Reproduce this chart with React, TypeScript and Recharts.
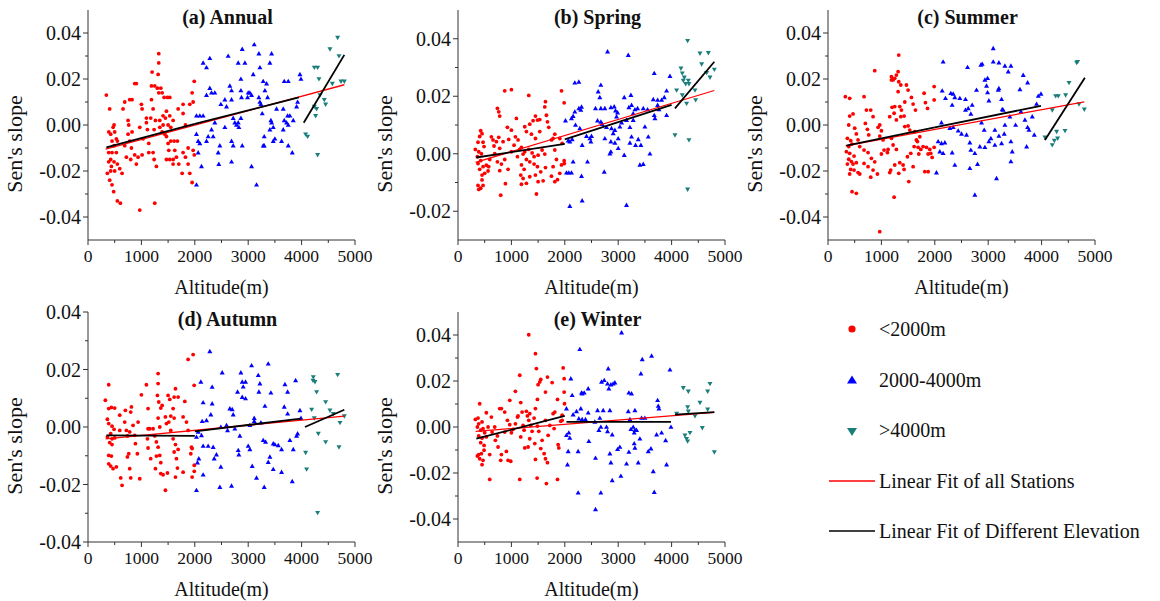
import React from 'react';
import { ScatterChart, Scatter, XAxis, YAxis } from 'recharts';

type Pt = [number, number];

// ---------- tick values ----------
const altitudeTicks = [0, 500, 1000, 1500, 2000, 2500, 3000, 3500, 4000, 4500, 5000];
const slopeTicksWide = [-0.04, -0.03, -0.02, -0.01, 0, 0.01, 0.02, 0.03, 0.04];
const slopeTicksSpring = [-0.02, -0.01, 0, 0.01, 0.02, 0.03, 0.04];
const slopeTicksAutumn = [-0.04, -0.03, -0.02, -0.01, 0, 0.01, 0.02, 0.03, 0.04];

// ---------- (a) Annual ----------
const annualLow: Pt[] = [[344,0.013],[406,0.007],[488,0.000],[470,-0.001],[390,-0.003],[425,-0.004],[500,-0.003],[531,-0.006],[450,-0.007],[550,-0.007],[488,-0.009],[388,-0.012],[450,-0.012],[531,-0.012],[425,-0.015],[388,-0.016],[488,-0.016],[550,-0.017],[438,-0.018],[363,-0.021],[500,-0.020],[594,-0.019],[638,-0.021],[425,-0.020],[406,-0.024],[450,-0.026],[481,-0.029],[550,-0.033],[606,-0.034],[969,-0.037],[1250,-0.034],[688,0.010],[781,0.011],[825,0.011],[656,0.007],[875,0.018],[906,0.018],[1000,0.009],[1013,0.007],[750,0.002],[763,0.000],[969,-0.001],[1094,0.003],[1094,0.001],[750,-0.004],[825,-0.003],[781,-0.007],[688,-0.009],[813,-0.010],[719,-0.014],[800,-0.015],[875,-0.013],[938,-0.014],[1013,-0.013],[906,-0.017],[1325,0.031],[1325,0.027],[1200,0.023],[1313,0.022],[1188,0.017],[1250,0.017],[1300,0.016],[1363,0.016],[1325,0.014],[1388,0.014],[1425,0.012],[1488,0.012],[1531,0.012],[1188,0.011],[1219,0.007],[1175,0.003],[1263,0.002],[1344,0.002],[1406,0.004],[1469,0.006],[1531,0.004],[1450,0.003],[1406,0.000],[1500,0.000],[1550,-0.001],[1238,-0.002],[1344,-0.001],[1388,-0.003],[1438,-0.004],[1500,-0.008],[1550,-0.007],[1613,-0.007],[1675,-0.007],[1469,-0.005],[1138,-0.008],[1138,-0.012],[1219,-0.012],[1238,-0.015],[1281,-0.018],[1469,-0.015],[1531,-0.015],[1594,-0.015],[1656,-0.014],[1625,-0.011],[1513,-0.011],[1594,-0.017],[1700,-0.017],[1781,-0.012],[1875,-0.010],[1825,-0.014],[1875,-0.017],[1969,-0.011],[1990,-0.013],[1763,-0.021],[1906,-0.021],[1950,-0.025],[1781,0.009],[1781,0.005],[1825,0.000],[1906,0.009],[1950,0.014],[1990,0.019],[1969,0.010],[1688,0.007],[1594,0.002],[1113,-0.002],[1031,-0.006]];
const annualMid: Pt[] = [[2156,0.027],[2219,0.025],[2281,0.029],[2031,0.004],[2094,0.004],[2156,0.004],[2031,-0.004],[2063,-0.007],[2094,-0.008],[2063,-0.012],[2125,-0.018],[2031,-0.026],[2219,0.013],[2313,0.014],[2375,0.014],[2281,0.016],[2313,-0.002],[2344,-0.005],[2250,-0.005],[2219,-0.007],[2469,-0.009],[2438,-0.012],[2450,-0.017],[2375,0.001],[2488,0.009],[2563,0.011],[2594,0.008],[2656,0.017],[2688,0.015],[2625,0.030],[2688,-0.007],[2719,-0.009],[2688,-0.016],[2719,0.003],[2750,0.001],[2781,0.000],[2813,0.001],[2825,-0.001],[2863,0.003],[2863,0.020],[2863,0.015],[2875,0.012],[2813,0.027],[2938,0.027],[2888,0.033],[2888,-0.009],[3000,0.014],[3031,0.014],[3063,0.013],[2988,0.012],[3063,-0.018],[3094,0.022],[3113,0.035],[3156,-0.026],[3200,0.031],[3219,0.025],[3200,0.012],[3219,0.010],[3238,0.009],[3281,0.019],[3313,0.015],[3344,0.018],[3363,0.012],[3263,0.005],[3300,-0.005],[3300,-0.009],[3406,0.027],[3438,0.031],[3438,0.001],[3469,-0.001],[3406,-0.002],[3500,-0.006],[3425,0.002],[3469,-0.007],[3281,-0.009],[3531,0.007],[3656,0.007],[3675,0.002],[3719,0.001],[3675,0.019],[3750,0.019],[3738,0.004],[3781,0.004],[3825,-0.012],[3625,-0.007],[3656,-0.002],[3750,0.000],[3844,0.002],[3906,0.008],[3925,0.010],[3969,0.022],[3988,0.020],[3750,-0.009],[2563,-0.001],[2688,0.011]];
const annualHigh: Pt[] = [[4075,-0.004],[4113,-0.005],[4238,0.025],[4300,0.025],[4325,0.020],[4238,0.008],[4281,0.007],[4263,0.004],[4300,-0.013],[4425,0.011],[4450,0.009],[4531,0.033],[4575,0.018],[4675,0.038],[4700,0.030],[4738,0.019],[4800,0.019],[4344,0.013]];
const annualFitAll: Pt[] = [[330,-0.0105],[4800,0.0175]];
const annualFitLow: Pt[] = [[344,-0.0097],[2000,0.0005]];
const annualFitMid: Pt[] = [[2000,0.0005],[3950,0.012]];
const annualFitHigh: Pt[] = [[4040,0.001],[4800,0.0305]];

// ---------- (b) Spring ----------
const springLow: Pt[] = [[325,0.0015],[388,0.0007],[363,-0.001],[438,0],[425,0.008],[450,0.007],[406,0.006],[375,0.004],[469,0.004],[488,0.0025],[375,-0.0034],[425,-0.0024],[469,-0.0045],[531,-0.004],[500,-0.0068],[563,-0.006],[406,-0.0054],[450,-0.0074],[375,-0.011],[425,-0.012],[469,-0.011],[388,-0.0124],[450,-0.0091],[575,-0.0045],[594,-0.002],[625,0.0059],[656,0.0048],[719,0.0042],[675,0.0027],[763,0.0057],[844,0.0042],[781,0.0019],[688,0],[738,-0.0028],[813,-0.0036],[875,-0.002],[781,-0.0059],[800,-0.0144],[888,-0.0104],[938,-0.0054],[738,0.0158],[763,0.0146],[781,0.0131],[875,0.0219],[1000,0.0223],[925,0.0092],[1000,0.0082],[1094,0.0123],[1075,0.0059],[950,0.005],[1050,0.003],[1125,0.0048],[1156,0.0015],[1000,0.0007],[1113,-0.001],[1219,-0.0001],[1325,0.0203],[1250,0.0094],[1344,0.0103],[1406,0.0115],[1450,0.0131],[1488,0.0117],[1531,0.0119],[1281,0.0077],[1375,0.0068],[1450,0.0053],[1531,0.0077],[1188,0.0022],[1250,0.0007],[1325,0.0015],[1388,0.0003],[1425,-0.001],[1500,-0.0005],[1575,0.0013],[1625,-0.0001],[1281,-0.002],[1344,-0.0028],[1425,-0.0036],[1488,-0.0045],[1188,-0.0039],[1238,-0.0054],[1175,-0.0074],[1219,-0.0086],[1281,-0.0103],[1188,-0.0106],[1344,-0.008],[1450,-0.0074],[1500,-0.0097],[1550,-0.0063],[1469,-0.014],[1594,-0.0094],[1638,-0.0048],[1638,0.0181],[1625,0.0163],[1656,0.0134],[1675,0.0111],[1700,0.0092],[1750,0.0048],[1781,0.0053],[1813,0.0013],[1844,-0.002],[1781,-0.0045],[1750,-0.0078],[1863,-0.009],[1813,-0.0097],[1906,-0.0068],[1938,-0.0039],[1988,-0.0024],[1990,-0.0034],[1938,0.0219],[1988,0.0177],[1813,0.0068],[1906,0.0053],[1950,0.0036]];
const springMid: Pt[] = [[2188,0.0247],[2263,0.025],[2188,0.0146],[2263,0.0158],[2313,0.0163],[2300,0.0152],[2156,0.0131],[2013,0.0115],[2125,0.0123],[2063,0.0045],[2138,0.005],[2094,0.0042],[2156,-0.0028],[2031,-0.0066],[2075,-0.0066],[2125,-0.0066],[2094,-0.0182],[2325,-0.0163],[2313,-0.0078],[2200,0.01],[2281,0.0088],[2325,0.003],[2406,0.0061],[2425,-0.0028],[2469,0.0053],[2500,0.0061],[2488,0.0042],[2675,0.0239],[2625,0.0216],[2656,0.0196],[2575,0.0158],[2675,0.0158],[2750,0.0158],[2613,0.0115],[2675,0.0111],[2700,0.0103],[2781,0.0092],[2750,0.0053],[2738,-0.0063],[2800,0.0355],[2863,0.0161],[2925,0.0164],[2950,0.015],[2988,0.0143],[2969,0.0129],[2875,0.0088],[2906,0.0071],[2863,0.0042],[2938,0.0038],[3031,0.0094],[2863,0.0007],[2844,0],[3000,0.0019],[3113,-0.0005],[3063,0.0108],[3113,0.0196],[3156,0.0117],[3188,0.0343],[3200,0.0161],[3250,0.0169],[3238,0.0204],[3281,0.014],[3313,0.0154],[3363,0.0158],[3281,0.0117],[3219,0.0092],[3250,0.0059],[3375,0.005],[3425,0.003],[3325,0.003],[3219,0.0038],[3156,-0.0179],[3406,-0.0039],[3469,-0.0036],[3594,0],[3469,0.0158],[3550,0.0154],[3656,0.0189],[3675,0.028],[3675,0.0134],[3688,0.0123],[3738,0.0169],[3738,0.0187],[3813,0.0187],[3763,0.0154],[3863,0.0196],[3906,0.0219],[3906,0.0134],[3969,0.027],[3563,0.0059],[3500,0.0094],[3000,0.0053],[2938,0.0082]];
const springHigh: Pt[] = [[4094,0.0221],[4063,0.0065],[4175,0.0297],[4200,0.028],[4238,0.0266],[4219,0.0255],[4313,0.0255],[4263,0.0243],[4325,0.0243],[4300,0.0393],[4200,0.0204],[4281,0.0175],[4450,0.0187],[4325,0.0048],[4300,-0.0124],[4531,0.0349],[4688,0.0351],[4563,0.0312],[4656,0.0282],[4719,0.0266],[4800,0.0293],[4438,0.0221]];
const springFitAll: Pt[] = [[330,-0.003],[4800,0.022]];
const springFitLow: Pt[] = [[344,-0.0013],[2000,0.0034]];
const springFitMid: Pt[] = [[2000,0.005],[4000,0.017]];
const springFitHigh: Pt[] = [[4063,0.0158],[4800,0.032]];

// ---------- (c) Summer ----------
const summerLow: Pt[] = [[325,0.0123],[406,0.0116],[469,0.0048],[406,0.0039],[388,0],[363,-0.0058],[425,-0.0068],[450,-0.0083],[388,-0.0094],[344,-0.0116],[406,-0.0123],[488,-0.0135],[388,-0.0149],[438,-0.0159],[363,-0.017],[469,-0.017],[531,-0.0164],[425,-0.0193],[488,-0.0196],[406,-0.0213],[563,-0.0207],[594,-0.0213],[450,-0.029],[531,-0.0297],[969,-0.0464],[1238,-0.0314],[500,-0.0014],[531,-0.0039],[563,-0.0065],[594,-0.0094],[675,0.0123],[719,0.0065],[700,0.0007],[738,-0.0019],[763,-0.0043],[675,-0.0109],[750,-0.012],[813,-0.0145],[675,-0.0167],[750,-0.0181],[800,-0.0227],[875,-0.016],[925,-0.0213],[844,-0.0196],[875,0.0236],[800,0.0065],[844,0.0036],[938,-0.001],[969,0],[1000,-0.0025],[969,-0.0048],[1031,-0.0065],[1050,-0.0109],[1113,-0.012],[1000,-0.0126],[1188,0.021],[1219,0.0196],[1250,0.0203],[1313,0.0232],[1281,0.0217],[1188,0.0196],[1325,0.0188],[1363,0.0174],[1313,0.0145],[1438,0.01],[1469,0.0174],[1500,0.0152],[1325,0.0304],[1156,0.0036],[1200,0.0077],[1250,0.008],[1238,0.0051],[1281,0.0022],[1344,0.008],[1375,0.0065],[1363,0.0036],[1425,0.0039],[1438,-0.0007],[1500,-0.0004],[1531,-0.0022],[1188,-0.0058],[1219,-0.0087],[1125,-0.0106],[1281,-0.0106],[1175,-0.0196],[1156,-0.0207],[1250,-0.0174],[1344,-0.0164],[1406,-0.0174],[1488,-0.0138],[1550,-0.0123],[1325,-0.021],[1425,-0.0193],[1513,-0.0246],[1594,-0.0181],[1563,0.012],[1594,0.0091],[1638,0.0065],[1625,-0.0029],[1656,-0.0065],[1675,-0.0072],[1613,-0.0094],[1719,-0.0051],[1800,0.0138],[1825,0.0097],[1863,0.0072],[1688,-0.0097],[1738,-0.0106],[1700,-0.0126],[1781,-0.0094],[1844,-0.0097],[1906,-0.0106],[1875,-0.0126],[1925,-0.0123],[1988,-0.0097],[1950,-0.0141],[1813,-0.0203],[1875,-0.0203],[1988,0.0109],[1988,0.0167]];
const summerMid: Pt[] = [[2156,0.0275],[2138,0.0149],[2200,0.0116],[2125,0.001],[2063,-0.0072],[2125,-0.008],[2094,-0.0116],[2156,-0.0123],[2188,-0.0077],[2031,-0.0207],[2300,0.0138],[2344,0.0135],[2375,0.012],[2325,0.0087],[2281,-0.0014],[2344,-0.001],[2438,-0.0025],[2500,-0.0039],[2325,-0.012],[2375,-0.0174],[2469,0.0116],[2575,0.0112],[2575,0.0065],[2625,0.0072],[2700,0.0087],[2675,0.0048],[2594,-0.0043],[2656,-0.0077],[2675,-0.0109],[2750,-0.0123],[2656,-0.0188],[2750,-0.0304],[2800,-0.017],[2613,0.0251],[2781,0.0152],[2888,0.0265],[2863,0.0261],[2938,0.0196],[2988,0.0203],[2969,0.017],[2988,0.0141],[3013,0.0106],[2925,-0.0022],[3094,0.0333],[3094,0.0275],[3200,0.0271],[3313,0.0257],[3425,0.0257],[3375,0.0232],[3200,0.0159],[3188,0.0152],[3250,0.0112],[3281,0.0065],[3263,0.0068],[3050,-0.0058],[3125,-0.0087],[3156,-0.0232],[3200,-0.0048],[3250,-0.008],[3300,-0.0039],[3313,0],[3406,0.0036],[3425,-0.0072],[3450,-0.0116],[3425,-0.0159],[3513,0],[3594,0.0155],[3656,0.0217],[3738,0.0184],[3613,0.0058],[3688,0.0022],[3738,-0.001],[3763,-0.0022],[3825,0.0036],[3719,-0.0094],[3863,-0.0043],[3906,0.0091],[3938,0.0126],[3988,0.0135],[3125,-0.0022],[2875,0.001],[2844,-0.0094],[2938,-0.0097],[3013,-0.0072]];
const summerHigh: Pt[] = [[4063,-0.0054],[4200,-0.0087],[4238,-0.0068],[4300,-0.0058],[4281,-0.0029],[4438,-0.0025],[4200,0.0065],[4313,0.0126],[4450,0.013],[4513,0.0184],[4675,0.0275],[4656,0.0271],[4700,0.0091],[4800,0.0068],[4263,0.0126]];
const summerFitAll: Pt[] = [[330,-0.0091],[4800,0.0101]];
const summerFitLow: Pt[] = [[344,-0.009],[2000,-0.001]];
const summerFitMid: Pt[] = [[2000,-0.001],[3988,0.0083]];
const summerFitHigh: Pt[] = [[4063,-0.0065],[4810,0.0205]];

// ---------- (d) Autumn ----------
const autumnLow: Pt[] = [[325,0.0093],[388,0.0147],[388,0.0064],[438,0.0068],[500,0.0066],[363,0.0027],[388,0.0012],[450,0.0003],[488,-0.0008],[425,-0.0023],[363,-0.0035],[450,-0.0041],[500,-0.0038],[406,-0.0054],[450,-0.0061],[388,-0.0099],[438,-0.0101],[388,-0.0128],[425,-0.0136],[469,-0.0145],[531,-0.0139],[594,0.0041],[613,-0.0177],[638,-0.0203],[700,0.0058],[688,0.0017],[719,-0.0012],[738,-0.0031],[781,-0.0017],[813,0.007],[800,0.0052],[844,0.0006],[875,-0.0029],[888,-0.0058],[763,-0.0093],[738,-0.0104],[781,-0.0145],[800,-0.0177],[925,-0.0093],[969,-0.018],[1000,0.0112],[1094,0.0147],[1125,0.0064],[1156,-0.0006],[1113,-0.0041],[1125,-0.0073],[1175,-0.011],[1125,-0.0006],[1313,0.0186],[1313,0.0151],[1300,0.011],[1325,0.0087],[1388,0.0075],[1363,0.0066],[1313,0.0031],[1344,0],[1250,-0.0031],[1281,-0.0052],[1313,-0.007],[1281,-0.0101],[1344,-0.0099],[1363,-0.0124],[1263,-0.0145],[1363,-0.0162],[1406,-0.0166],[1450,-0.022],[1488,-0.016],[1500,0.011],[1531,0.0096],[1613,0.0104],[1638,0.0133],[1688,0.0104],[1594,0.0064],[1550,0.0038],[1613,0.0031],[1513,0.0017],[1594,-0.0041],[1638,-0.0061],[1688,-0.0078],[1613,-0.0087],[1656,-0.011],[1675,-0.0143],[1638,-0.0174],[1781,-0.0157],[1813,0.0089],[1781,0.0035],[1844,0.0017],[1875,-0.0012],[1938,-0.007],[1950,-0.0075],[1925,-0.0093],[1990,-0.0133],[1990,-0.0154],[1950,-0.0174],[1875,0.0235],[1969,0.0252],[1988,0.0145],[1450,0.0035],[1469,0.0012],[1550,-0.0012],[1219,-0.0006],[938,0.0017],[594,-0.0012]];
const autumnMid: Pt[] = [[2113,0.0157],[2325,0.0139],[2156,0.0085],[2219,0.0023],[2138,0.002],[2063,-0.0017],[2125,-0.0029],[2031,-0.0035],[2156,-0.0066],[2075,-0.011],[2156,-0.0166],[2050,-0.0124],[2031,-0.022],[2281,0.0263],[2325,0.0081],[2300,0.0043],[2250,-0.0066],[2344,-0.007],[2363,-0.011],[2406,-0.0096],[2488,-0.0139],[2469,-0.0209],[2513,0.0189],[2488,0],[2594,0.0006],[2656,0.0064],[2700,0.0061],[2719,0.0043],[2750,-0.0006],[2613,-0.0012],[2844,-0.0031],[2813,-0.0081],[2825,-0.0096],[2688,-0.0205],[2863,0.0189],[2888,0.0157],[2950,0.0157],[2906,0.014],[2800,0.0122],[2888,0.0104],[2950,0.0099],[3063,0.0214],[3113,0.0031],[3113,0.002],[3031,0.0006],[3000,-0.0066],[3031,-0.0078],[3075,-0.0136],[3156,-0.0177],[3188,0.018],[3219,0.0151],[3200,0.0122],[3238,0.0015],[3313,0.0073],[3375,0.022],[3425,0.0119],[3300,-0.0209],[3281,-0.0046],[3325,-0.0052],[3406,-0.0104],[3500,-0.0061],[3563,-0.0064],[3625,-0.0078],[3469,-0.0058],[3625,-0.0157],[3688,0.0148],[3738,0.0122],[3675,0.007],[3738,0.0046],[3781,-0.0046],[3844,-0.0078],[3825,-0.0189],[3906,-0.0031],[3925,-0.0023],[3969,0.0058],[3988,0.0031],[3888,0.0162],[3375,-0.0122],[3469,-0.0147]];
const autumnHigh: Pt[] = [[4075,-0.0089],[4094,-0.0147],[4219,0.0174],[4250,0.0157],[4281,0.0122],[4238,0.0031],[4313,-0.0023],[4300,-0.0298],[4450,0.0087],[4450,-0.0052],[4531,0.0058],[4594,0.0046],[4675,0.0182],[4700,-0.007],[4719,0.0015],[4800,0.0038],[4188,0.0061],[4213,0.0162]];
const autumnFitAll: Pt[] = [[330,-0.0041],[4800,0.0038]];
const autumnFitLow: Pt[] = [[344,-0.0029],[2000,-0.0031]];
const autumnFitMid: Pt[] = [[2000,-0.0015],[3988,0.0029]];
const autumnFitHigh: Pt[] = [[4063,0],[4800,0.006]];

// ---------- (e) Winter ----------
const winterLow: Pt[] = [[325,0.0033],[375,0.0039],[406,0.0101],[388,0.0014],[450,0.0022],[363,0],[425,-0.0014],[469,-0.0007],[500,-0.0025],[388,-0.0039],[450,-0.0048],[531,-0.0043],[425,-0.0068],[488,-0.008],[388,-0.012],[438,-0.0116],[488,-0.0101],[406,-0.0138],[469,-0.0145],[363,-0.0126],[594,-0.012],[450,-0.0164],[594,-0.0228],[531,0.0062],[625,0.0043],[688,0],[638,-0.0022],[700,-0.0058],[738,-0.0039],[750,-0.0087],[813,-0.012],[800,-0.0145],[906,-0.0106],[938,-0.0145],[988,-0.0149],[781,0.008],[813,0.008],[875,0.0065],[925,0.0029],[969,0.001],[1000,-0.0025],[969,0.0116],[1075,0.0155],[1113,0.0043],[1156,0.0225],[1175,0.0106],[1200,0.0065],[1219,0.0007],[1175,-0.0043],[1238,-0.0014],[1281,0.0068],[1300,0.0048],[1344,0.0058],[1325,0.0029],[1363,0.0007],[1388,-0.0019],[1156,-0.0228],[1250,-0.0091],[1313,-0.0087],[1344,-0.0051],[1325,0.0401],[1450,0.0319],[1469,0.0254],[1500,0.0184],[1550,0.0207],[1531,0.0196],[1488,0.012],[1450,0.008],[1425,0.0039],[1488,0.0004],[1513,-0.0019],[1438,-0.0072],[1450,-0.0141],[1481,-0.0222],[1550,-0.0094],[1575,-0.0058],[1638,0.0152],[1675,0.0217],[1638,0.0029],[1613,-0.0116],[1638,-0.0138],[1675,-0.0155],[1656,-0.0246],[1688,-0.0036],[1719,0.0007],[1763,0.0193],[1781,0.0058],[1813,0.0065],[1800,-0.0007],[1863,0.012],[1875,-0.0077],[1888,-0.0091],[1863,-0.0228],[1925,0.0025],[1950,0.0051],[1988,0.0152],[1969,0.0257],[1988,0.021],[1995,0.0101],[1950,0.0029],[1031,-0.001],[1075,0.0014],[1125,0.0048],[875,-0.0022],[563,0]];
const winterMid: Pt[] = [[2113,0.021],[2031,0.008],[2031,-0.0036],[2075,-0.0025],[2094,-0.0048],[2156,0.0054],[2138,0.0138],[2063,-0.0106],[2050,-0.0164],[2281,0.0338],[2313,0.0149],[2363,0.0149],[2438,0.0167],[2300,0.008],[2219,0.0068],[2263,0.0036],[2325,0.0033],[2388,0.0033],[2438,0.0062],[2450,-0.0062],[2250,-0.0106],[2325,0.0145],[2688,0.0196],[2738,0.0203],[2800,0.0188],[2825,0.0167],[2863,0.0184],[2906,0.0188],[2938,0.0193],[2813,0.0254],[2613,0.0072],[2719,0.0072],[2844,0.0072],[2638,-0.0014],[2675,0],[2781,0],[2800,-0.0019],[2888,-0.0033],[2575,-0.0135],[2844,-0.0116],[2863,-0.0155],[2888,-0.0232],[2988,-0.0097],[3031,-0.0087],[3050,-0.0213],[3156,-0.016],[3063,0.041],[3200,0.0149],[3250,0.0145],[3188,0.0068],[3313,0.0072],[3219,0.0033],[3281,0],[3238,-0.001],[3313,-0.0014],[3344,-0.0014],[3300,-0.0025],[3406,-0.0051],[3300,-0.0072],[3313,-0.0091],[3375,-0.0155],[3200,-0.0109],[3425,0.0232],[3450,0.0294],[3438,0.0039],[3500,0.0039],[3625,0.0309],[3738,0.0116],[3763,0.008],[3750,0.0091],[3613,-0.0094],[3563,-0.0106],[3656,-0.0193],[3675,-0.0283],[3719,-0.0033],[3813,-0.0025],[3888,-0.0058],[3906,-0.0164],[3969,0.0249],[3988,0],[2250,-0.0286],[2675,-0.0286],[2575,-0.0358],[2563,0.0022],[2656,0.0039]];
const winterHigh: Pt[] = [[4094,0.0058],[4219,0.017],[4313,0.0155],[4300,0.0087],[4313,0.0068],[4250,-0.0036],[4281,-0.0051],[4300,-0.0062],[4344,-0.0025],[4438,0.0048],[4531,0.0106],[4575,-0.0004],[4675,0.0155],[4719,0.0188],[4675,0.0077],[4800,-0.0109]];
const winterFitAll: Pt[] = [[330,-0.0019],[4800,0.0064]];
const winterFitLow: Pt[] = [[344,-0.0051],[2000,0.0048]];
const winterFitMid: Pt[] = [[2031,0.0022],[3988,0.0022]];
const winterFitHigh: Pt[] = [[4063,0.0054],[4800,0.0065]];

// ---------- text ----------
const panelTitles = ['(a) Annual', '(b) Spring', '(c) Summer', '(d) Autumn', '(e) Winter'];
const xAxisTitle = 'Altitude(m)';
const yAxisTitle = "Sen's slope";
const legendLabels = ['<2000m', '2000-4000m', '>4000m', 'Linear Fit of all Stations', 'Linear Fit of Different Elevation'];

// ---------- styles ----------
const FONT = "'Liberation Serif', 'Times New Roman', serif";
const RED = '#ff0000';
const BLUE = '#0000ff';
const TEAL = '#1a7f7b';
const AXIS = '#333333';
const TXT = '#111111';

const toObjs = (pts: Pt[]) => pts.map(([x, y]) => ({ x, y }));

const DotShape = (p: any) => <circle cx={p.cx} cy={p.cy} r={1.9} fill={RED} />;
const UpShape = (p: any) => (
  <polygon points={`${p.cx},${p.cy - 2.6} ${p.cx + 2.5},${p.cy + 1.8} ${p.cx - 2.5},${p.cy + 1.8}`} fill={BLUE} />
);
const DownShape = (p: any) => (
  <polygon points={`${p.cx},${p.cy + 2.6} ${p.cx + 2.5},${p.cy - 1.8} ${p.cx - 2.5},${p.cy - 1.8}`} fill={TEAL} />
);
const NoShape = () => <g />;

const YTick = (p: any) => {
  const v = p.payload.value as number;
  const major = Math.round(v * 100) % 2 === 0;
  return (
    <g>
      <line x1={p.x} x2={p.x - (major ? 5 : 3)} y1={p.y} y2={p.y} stroke={AXIS} strokeWidth={1} />
      {major && (
        <text x={p.x - 7} y={p.y} dy="0.35em" textAnchor="end" fontSize={20} fontFamily={FONT} fill={TXT}>
          {v.toFixed(2)}
        </text>
      )}
    </g>
  );
};

const XTick = (p: any) => {
  const v = p.payload.value as number;
  const major = v % 1000 === 0;
  return (
    <g>
      <line x1={p.x} x2={p.x} y1={p.y} y2={p.y + (major ? 5 : 3)} stroke={AXIS} strokeWidth={1} />
      {major && (
        <text x={p.x} y={p.y + 22} textAnchor="middle" fontSize={17.5} fontFamily={FONT} fill={TXT}>
          {String(v)}
        </text>
      )}
    </g>
  );
};

type Panel = {
  left: number; top: number; domain: [number, number]; ticks: number[];
  low: Pt[]; mid: Pt[]; high: Pt[]; fitAll: Pt[]; fitLow: Pt[]; fitMid: Pt[]; fitHigh: Pt[];
};

const panels: Panel[] = [
  { left: 0, top: 0, domain: [-0.05, 0.05], ticks: slopeTicksWide, low: annualLow, mid: annualMid, high: annualHigh, fitAll: annualFitAll, fitLow: annualFitLow, fitMid: annualFitMid, fitHigh: annualFitHigh },
  { left: 370, top: 0, domain: [-0.03, 0.05], ticks: slopeTicksSpring, low: springLow, mid: springMid, high: springHigh, fitAll: springFitAll, fitLow: springFitLow, fitMid: springFitMid, fitHigh: springFitHigh },
  { left: 740, top: 0, domain: [-0.05, 0.05], ticks: slopeTicksWide, low: summerLow, mid: summerMid, high: summerHigh, fitAll: summerFitAll, fitLow: summerFitLow, fitMid: summerFitMid, fitHigh: summerFitHigh },
  { left: 0, top: 302, domain: [-0.04, 0.04], ticks: slopeTicksAutumn, low: autumnLow, mid: autumnMid, high: autumnHigh, fitAll: autumnFitAll, fitLow: autumnFitLow, fitMid: autumnFitMid, fitHigh: autumnFitHigh },
  { left: 370, top: 302, domain: [-0.05, 0.05], ticks: slopeTicksWide, low: winterLow, mid: winterMid, high: winterHigh, fitAll: winterFitAll, fitLow: winterFitLow, fitMid: winterFitMid, fitHigh: winterFitHigh },
];

const CH_W = 375;
const CH_H = 300;
const PLOT_L = 88;
const PLOT_T = 10;
const PLOT_W = 267;
const PLOT_H = 230;

function PanelChart({ p }: { p: Panel }) {
  return (
    <div style={{ position: 'absolute', left: p.left, top: p.top, width: CH_W, height: CH_H }}>
      <ScatterChart width={CH_W} height={CH_H} margin={{ top: PLOT_T, right: CH_W - PLOT_L - PLOT_W, bottom: 0, left: 0 }}>
        <XAxis
          type="number" dataKey="x" domain={[0, 5000]} ticks={altitudeTicks} interval={0}
          height={CH_H - PLOT_T - PLOT_H} tickSize={0} tickMargin={0} tickLine={false}
          axisLine={{ stroke: AXIS, strokeWidth: 1 }} tick={XTick} allowDataOverflow
        />
        <YAxis
          type="number" dataKey="y" domain={p.domain} ticks={p.ticks} interval={0}
          width={PLOT_L} tickSize={0} tickMargin={0} tickLine={false}
          axisLine={{ stroke: AXIS, strokeWidth: 1 }} tick={YTick} allowDataOverflow
        />
        <Scatter data={toObjs(p.low)} shape={DotShape} isAnimationActive={false} />
        <Scatter data={toObjs(p.mid)} shape={UpShape} isAnimationActive={false} />
        <Scatter data={toObjs(p.high)} shape={DownShape} isAnimationActive={false} />
        <Scatter data={toObjs(p.fitAll)} shape={NoShape} line={{ stroke: RED, strokeWidth: 1.3 }} isAnimationActive={false} />
        <Scatter data={toObjs(p.fitLow)} shape={NoShape} line={{ stroke: '#000', strokeWidth: 1.8 }} isAnimationActive={false} />
        <Scatter data={toObjs(p.fitMid)} shape={NoShape} line={{ stroke: '#000', strokeWidth: 1.8 }} isAnimationActive={false} />
        <Scatter data={toObjs(p.fitHigh)} shape={NoShape} line={{ stroke: '#000', strokeWidth: 1.8 }} isAnimationActive={false} />
      </ScatterChart>
    </div>
  );
}

export default function App() {
  return (
    <div style={{ position: 'absolute', left: 0, top: 0, width: 1160, height: 601, background: '#fff', overflow: 'hidden' }}>
      {panels.map((p, i) => (
        <PanelChart key={i} p={p} />
      ))}
      <svg width={1160} height={601} style={{ position: 'absolute', left: 0, top: 0, pointerEvents: 'none' }}>
        {panels.map((p, i) => {
          const plotLeft = p.left + PLOT_L;
          const plotTop = p.top + PLOT_T;
          const cx = plotLeft + PLOT_W / 2;
          const yTitleX = plotLeft - 66;
          const yTitleY = plotTop + 134;
          return (
            <g key={i} fontFamily={FONT} fill={TXT}>
              <text x={cx + 6} y={plotTop + 14} textAnchor="middle" fontSize={20} fontWeight="bold">
                {panelTitles[i]}
              </text>
              <text x={cx} y={plotTop + PLOT_H + 54} textAnchor="middle" fontSize={20}>
                {xAxisTitle}
              </text>
              <text transform={`translate(${yTitleX},${yTitleY}) rotate(-90)`} textAnchor="middle" fontSize={22}>
                {yAxisTitle}
              </text>
            </g>
          );
        })}
        <g fontFamily={FONT} fill={TXT} fontSize={20}>
          <circle cx={852} cy={329} r={3.6} fill={RED} />
          <text x={879} y={336}>{legendLabels[0]}</text>
          <polygon points="852,375.5 857,383.5 847,383.5" fill={BLUE} />
          <text x={879} y={387}>{legendLabels[1]}</text>
          <polygon points="852,436 857,428 847,428" fill={TEAL} />
          <text x={879} y={437}>{legendLabels[2]}</text>
          <line x1={829} x2={875} y1={481} y2={481} stroke={RED} strokeWidth={1.5} />
          <text x={879} y={488}>{legendLabels[3]}</text>
          <line x1={829} x2={875} y1={531} y2={531} stroke="#000" strokeWidth={1.5} />
          <text x={879} y={538}>{legendLabels[4]}</text>
        </g>
      </svg>
    </div>
  );
}
